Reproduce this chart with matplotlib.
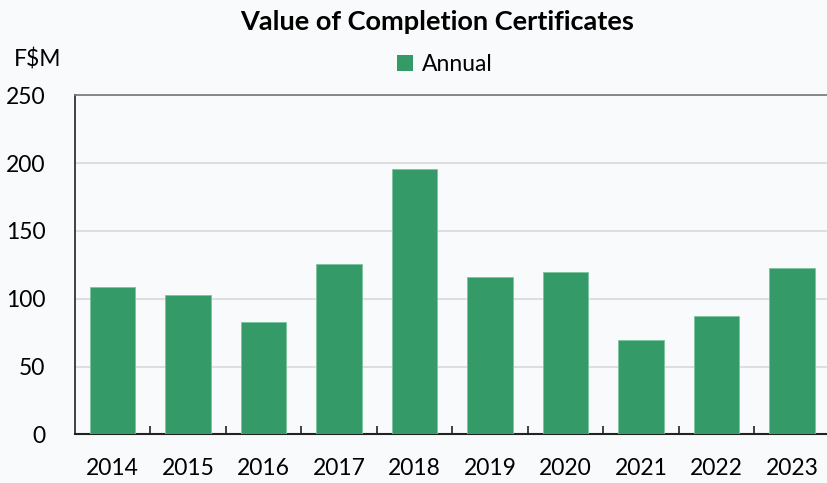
import matplotlib
matplotlib.use("Agg")
import matplotlib.pyplot as plt
import numpy as np
from matplotlib.patches import Patch

years = ["2014", "2015", "2016", "2017", "2018", "2019", "2020", "2021", "2022", "2023"]
annual = [108.8, 103.0, 82.6, 125.8, 195.4, 115.8, 119.9, 69.3, 87.5, 122.4]
y_ticks = [0, 50, 100, 150, 200, 250]

plt.rcParams["font.family"] = ["Lato", "DejaVu Sans"]

green = "#349a68"

fig = plt.figure(figsize=(8.28, 4.83), dpi=100, facecolor="#f9fafb")
ax = fig.add_axes([0.0902, 0.1008, 0.9098, 0.7019])
ax.set_facecolor("#f9fafb")

x = np.arange(len(years))
ax.bar(x, annual, width=0.6, color=green, edgecolor="#7cc4a0", linewidth=0.6, zorder=3)

ax.set_ylim(0, 250)
ax.set_yticks(y_ticks)
ax.set_xlim(-0.5, 9.477)
ax.set_xticks(x)
ax.set_xticklabels(years)
ax.set_xticks(np.arange(0.5, len(years) - 0.5), minor=True)

ax.tick_params(axis="y", length=0, pad=21, labelsize=16.5)
ax.tick_params(axis="x", which="major", length=0, pad=17, labelsize=16.5)
ax.tick_params(axis="x", which="minor", direction="in", length=6, width=1.2, color="#222222")

ax.yaxis.grid(True, color="#d9d9d9", linewidth=1.2, zorder=0)
ax.set_axisbelow(True)

ax.spines["left"].set_color("#222222")
ax.spines["left"].set_linewidth(1.2)
ax.spines["bottom"].set_color("#222222")
ax.spines["bottom"].set_linewidth(1.5)
ax.spines["top"].set_color("#777777")
ax.spines["top"].set_linewidth(1.2)
ax.spines["right"].set_visible(False)

fig.text(0.528, 0.955, "Value of Completion Certificates", ha="center", va="center",
         fontsize=19.5, fontweight="bold")
fig.text(0.046, 0.876, "F$M", ha="center", va="center", fontsize=16.5)

handles = [Patch(facecolor=green, edgecolor="none", label="Annual")]
fig.legend(handles=handles, loc="center", bbox_to_anchor=(0.537, 0.867), frameon=False,
           fontsize=16.5, handlelength=0.7, handleheight=0.7, handletextpad=0.4)

fig.savefig("out.png", dpi=100, facecolor=fig.get_facecolor())
plt.close()
